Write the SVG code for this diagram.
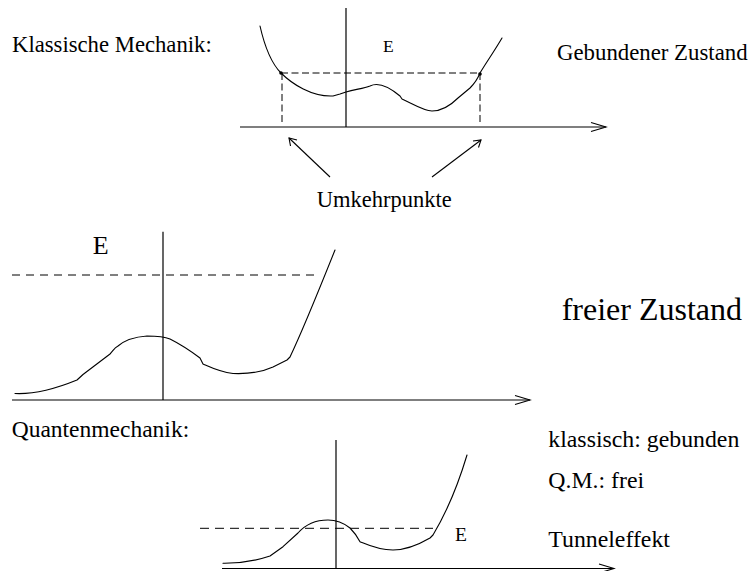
<svg xmlns="http://www.w3.org/2000/svg" width="749" height="571" viewBox="0 0 749 571">
<style>
text{font-family:"Liberation Serif","Times New Roman",serif;fill:#000}
.ax{fill:none;stroke:#000;stroke-width:1.2}
.cv{fill:none;stroke:#000;stroke-width:1.1;stroke-linejoin:round;stroke-linecap:round}
.ds{fill:none;stroke:#000;stroke-width:1}
.ah{fill:none;stroke:#000;stroke-width:1.1}
</style>
<rect width="749" height="571" fill="#fff"/>
<g id="classical">
  <line class="ax" x1="240" y1="127" x2="606" y2="127"/>
  <polyline class="ah" points="591,122.5 606,127 591,131.5"/>
  <line class="ax" x1="346" y1="8" x2="346" y2="127"/>
  <path class="cv" d="M260,26 C265,48 272,64 281,73 C292,84 312,97 333,96 L340,94 L346,92 C355,89 363,89 370,86 C378,82 388,86 400,96 L402,99 C413,104 424,111 432,111 C444,111 452,104 458,98 L470,88 C475,83 478,78 480,73 C488,60 495,50 502,38"/>
  <line class="ds" x1="281" y1="73" x2="480" y2="73" stroke-dasharray="7,3.5"/>
  <line class="ds" x1="282" y1="73" x2="282" y2="125" stroke-dasharray="7,3.5"/>
  <line class="ds" x1="480" y1="73" x2="480" y2="125" stroke-dasharray="7,3.5"/>
  <circle cx="281" cy="73" r="1.8"/>
  <circle cx="480" cy="74" r="1.8"/>
  <text x="383" y="51.7" font-size="17.5">E</text>
  <text x="12" y="51.7" font-size="22.7">Klassische Mechanik:</text>
  <text x="557" y="60" font-size="22.8">Gebundener Zustand</text>
</g>
<g id="turning-points">
  <line class="ah" x1="330" y1="177" x2="289" y2="138"/>
  <polyline class="ah" points="290.5,146 289,138 297,140"/>
  <line class="ah" x1="432" y1="177" x2="481" y2="140"/>
  <polyline class="ah" points="473,141 481,140 478.5,147.5"/>
  <text x="316.7" y="207" font-size="22.5">Umkehrpunkte</text>
</g>
<g id="free">
  <line class="ax" x1="12" y1="400" x2="530" y2="400"/>
  <polyline class="ah" points="515,395.5 530,400 515,404.5"/>
  <line class="ax" x1="163" y1="231.7" x2="163" y2="400"/>
  <line class="ds" x1="12" y1="275" x2="320" y2="275" stroke-dasharray="8,6"/>
  <path class="cv" d="M15,393.5 C35,394.5 55,389 77,380 L83,374.5 L110,354 C113,351 114,348 118,346 C125,340 133,337 147,336 C155,336 163,336 170,339 C182,345 192,352 200,358 L203,364 C212,368 220,372 233,373.5 C245,374 260,373 273,367 L287,360 L290,357 C300,336 315,300 335,250"/>
  <text x="92.7" y="254.3" font-size="26">E</text>
  <text x="561.7" y="320" font-size="32">freier Zustand</text>
</g>
<g id="quantum">
  <line class="ax" x1="222" y1="568.5" x2="614" y2="568.5"/>
  <polyline class="ah" points="599,564 614,568.5 599,573"/>
  <line class="ax" x1="336" y1="440" x2="336" y2="568.5"/>
  <line class="ds" x1="200" y1="528.3" x2="433" y2="528.3" stroke-dasharray="9,6"/>
  <path class="cv" d="M223,563.3 C240,563.5 255,561 270,556 L283,546.7 L298,533 C305,525 315,520 328,520 C338,520 345,524 350,528 C354,532 357,536 360,541.7 C368,545 378,550 393,550 C405,550 418,545 430,538 L433,535 C445,515 458,485 467,455"/>
  <text x="455" y="541" font-size="19.5">E</text>
  <text x="11.7" y="436.7" font-size="23.5">Quantenmechanik:</text>
  <text x="548.3" y="446.7" font-size="23.8">klassisch: gebunden</text>
  <text x="548.3" y="488.3" font-size="23.8">Q.M.: frei</text>
  <text x="548.3" y="547" font-size="23.8">Tunneleffekt</text>
</g>
</svg>
